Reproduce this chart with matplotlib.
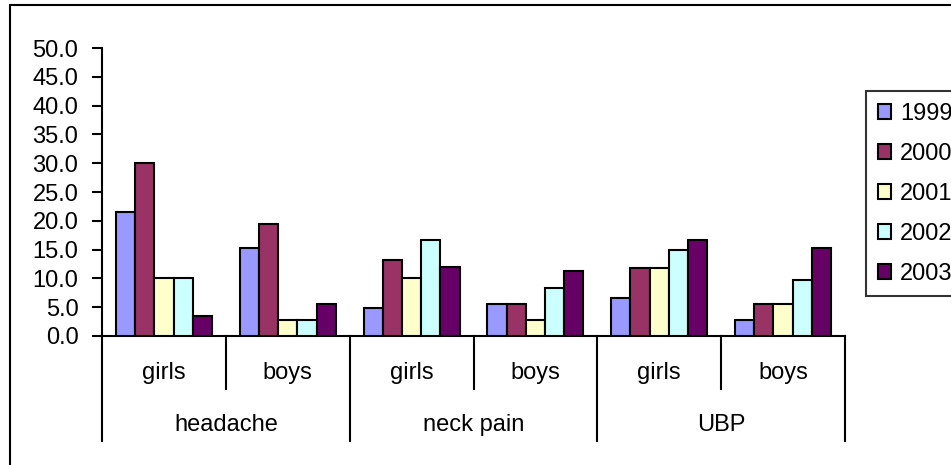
import numpy as np
import matplotlib
matplotlib.use("Agg")
import matplotlib.pyplot as plt
from matplotlib.patches import Rectangle
from matplotlib.ticker import FormatStrFormatter

plt.rcParams['font.family'] = ['Liberation Sans', 'DejaVu Sans']

# pain type / sex groups, prevalence (%) per survey year
complaints = ["headache", "neck pain", "UBP"]
sexes = ["girls", "boys"]
years = ["1999", "2000", "2001", "2002", "2003"]

y1999 = [21.6, 15.3, 4.8, 5.6, 6.6, 2.8]
y2000 = [30.0, 19.5, 13.2, 5.6, 11.8, 5.6]
y2001 = [10.0, 2.7, 10.1, 2.7, 11.8, 5.6]
y2002 = [10.0, 2.7, 16.7, 8.3, 15.0, 9.7]
y2003 = [3.5, 5.6, 11.9, 11.2, 16.7, 15.3]

colors = ["#9999FF", "#993366", "#FFFFCC", "#CCFFFF", "#660066"]
series = [y1999, y2000, y2001, y2002, y2003]

fs = 17
W, H = 951, 465
fig = plt.figure(figsize=(W / 100, H / 100), dpi=100)
ax = fig.add_axes([102 / W, 1 - 336 / H, (845 - 102) / W, (336 - 48) / H])

ncat = len(complaints) * len(sexes)
centers = np.arange(ncat) + 0.5
bw = 0.155
for k, (vals, c, lab) in enumerate(zip(series, colors, years)):
    ax.bar(centers + (k - 2) * bw, vals, width=bw, color=c,
           edgecolor="black", linewidth=1.5, label=lab, zorder=3)

ax.set_xlim(0, ncat)
ax.set_ylim(0, 50)
ax.set_yticks(np.arange(0, 50.1, 5))
ax.yaxis.set_major_formatter(FormatStrFormatter("%.1f"))
ax.tick_params(axis="y", direction="out", length=7, width=1.5,
               labelsize=fs, pad=10)
ax.set_xticks([])
for s in ["top", "right"]:
    ax.spines[s].set_visible(False)
ax.spines["left"].set_linewidth(1.5)
ax.spines["bottom"].set_linewidth(1.5)

# multi-level category axis drawn by hand
tr = ax.get_xaxis_transform()
ax_h = 336 - 48
short_y = -(389 - 336) / ax_h
long_y = -(441 - 336) / ax_h
for i in range(ncat + 1):
    y_end = long_y if i % 2 == 0 else short_y
    ax.plot([i, i], [0, y_end], color="black", lw=1.5,
            transform=tr, clip_on=False)
for i in range(ncat):
    ax.text(i + 0.5, -(373 - 336) / ax_h, sexes[i % 2], transform=tr,
            ha="center", va="center", fontsize=fs)
for j, name in enumerate(complaints):
    ax.text(2 * j + 1, -(425 - 336) / ax_h, name, transform=tr,
            ha="center", va="center", fontsize=fs)

leg = fig.legend(loc="upper left", bbox_to_anchor=(866 / W, 1 - 91 / H),
                 fontsize=fs, frameon=True, fancybox=False,
                 handlelength=0.57, handleheight=0.57, handletextpad=0.37,
                 labelspacing=0.76, borderpad=0.5, borderaxespad=0)
leg.get_frame().set_edgecolor("black")
leg.get_frame().set_linewidth(1.5)
for p in leg.get_patches():
    p.set_linewidth(1.5)

# chart area border
fig.patches.append(Rectangle((9.5 / W, -0.2), 1.2, 1.2 - 5.5 / H,
                             transform=fig.transFigure, fill=False,
                             edgecolor="black", linewidth=1.5))

fig.savefig("out.png", dpi=100)
